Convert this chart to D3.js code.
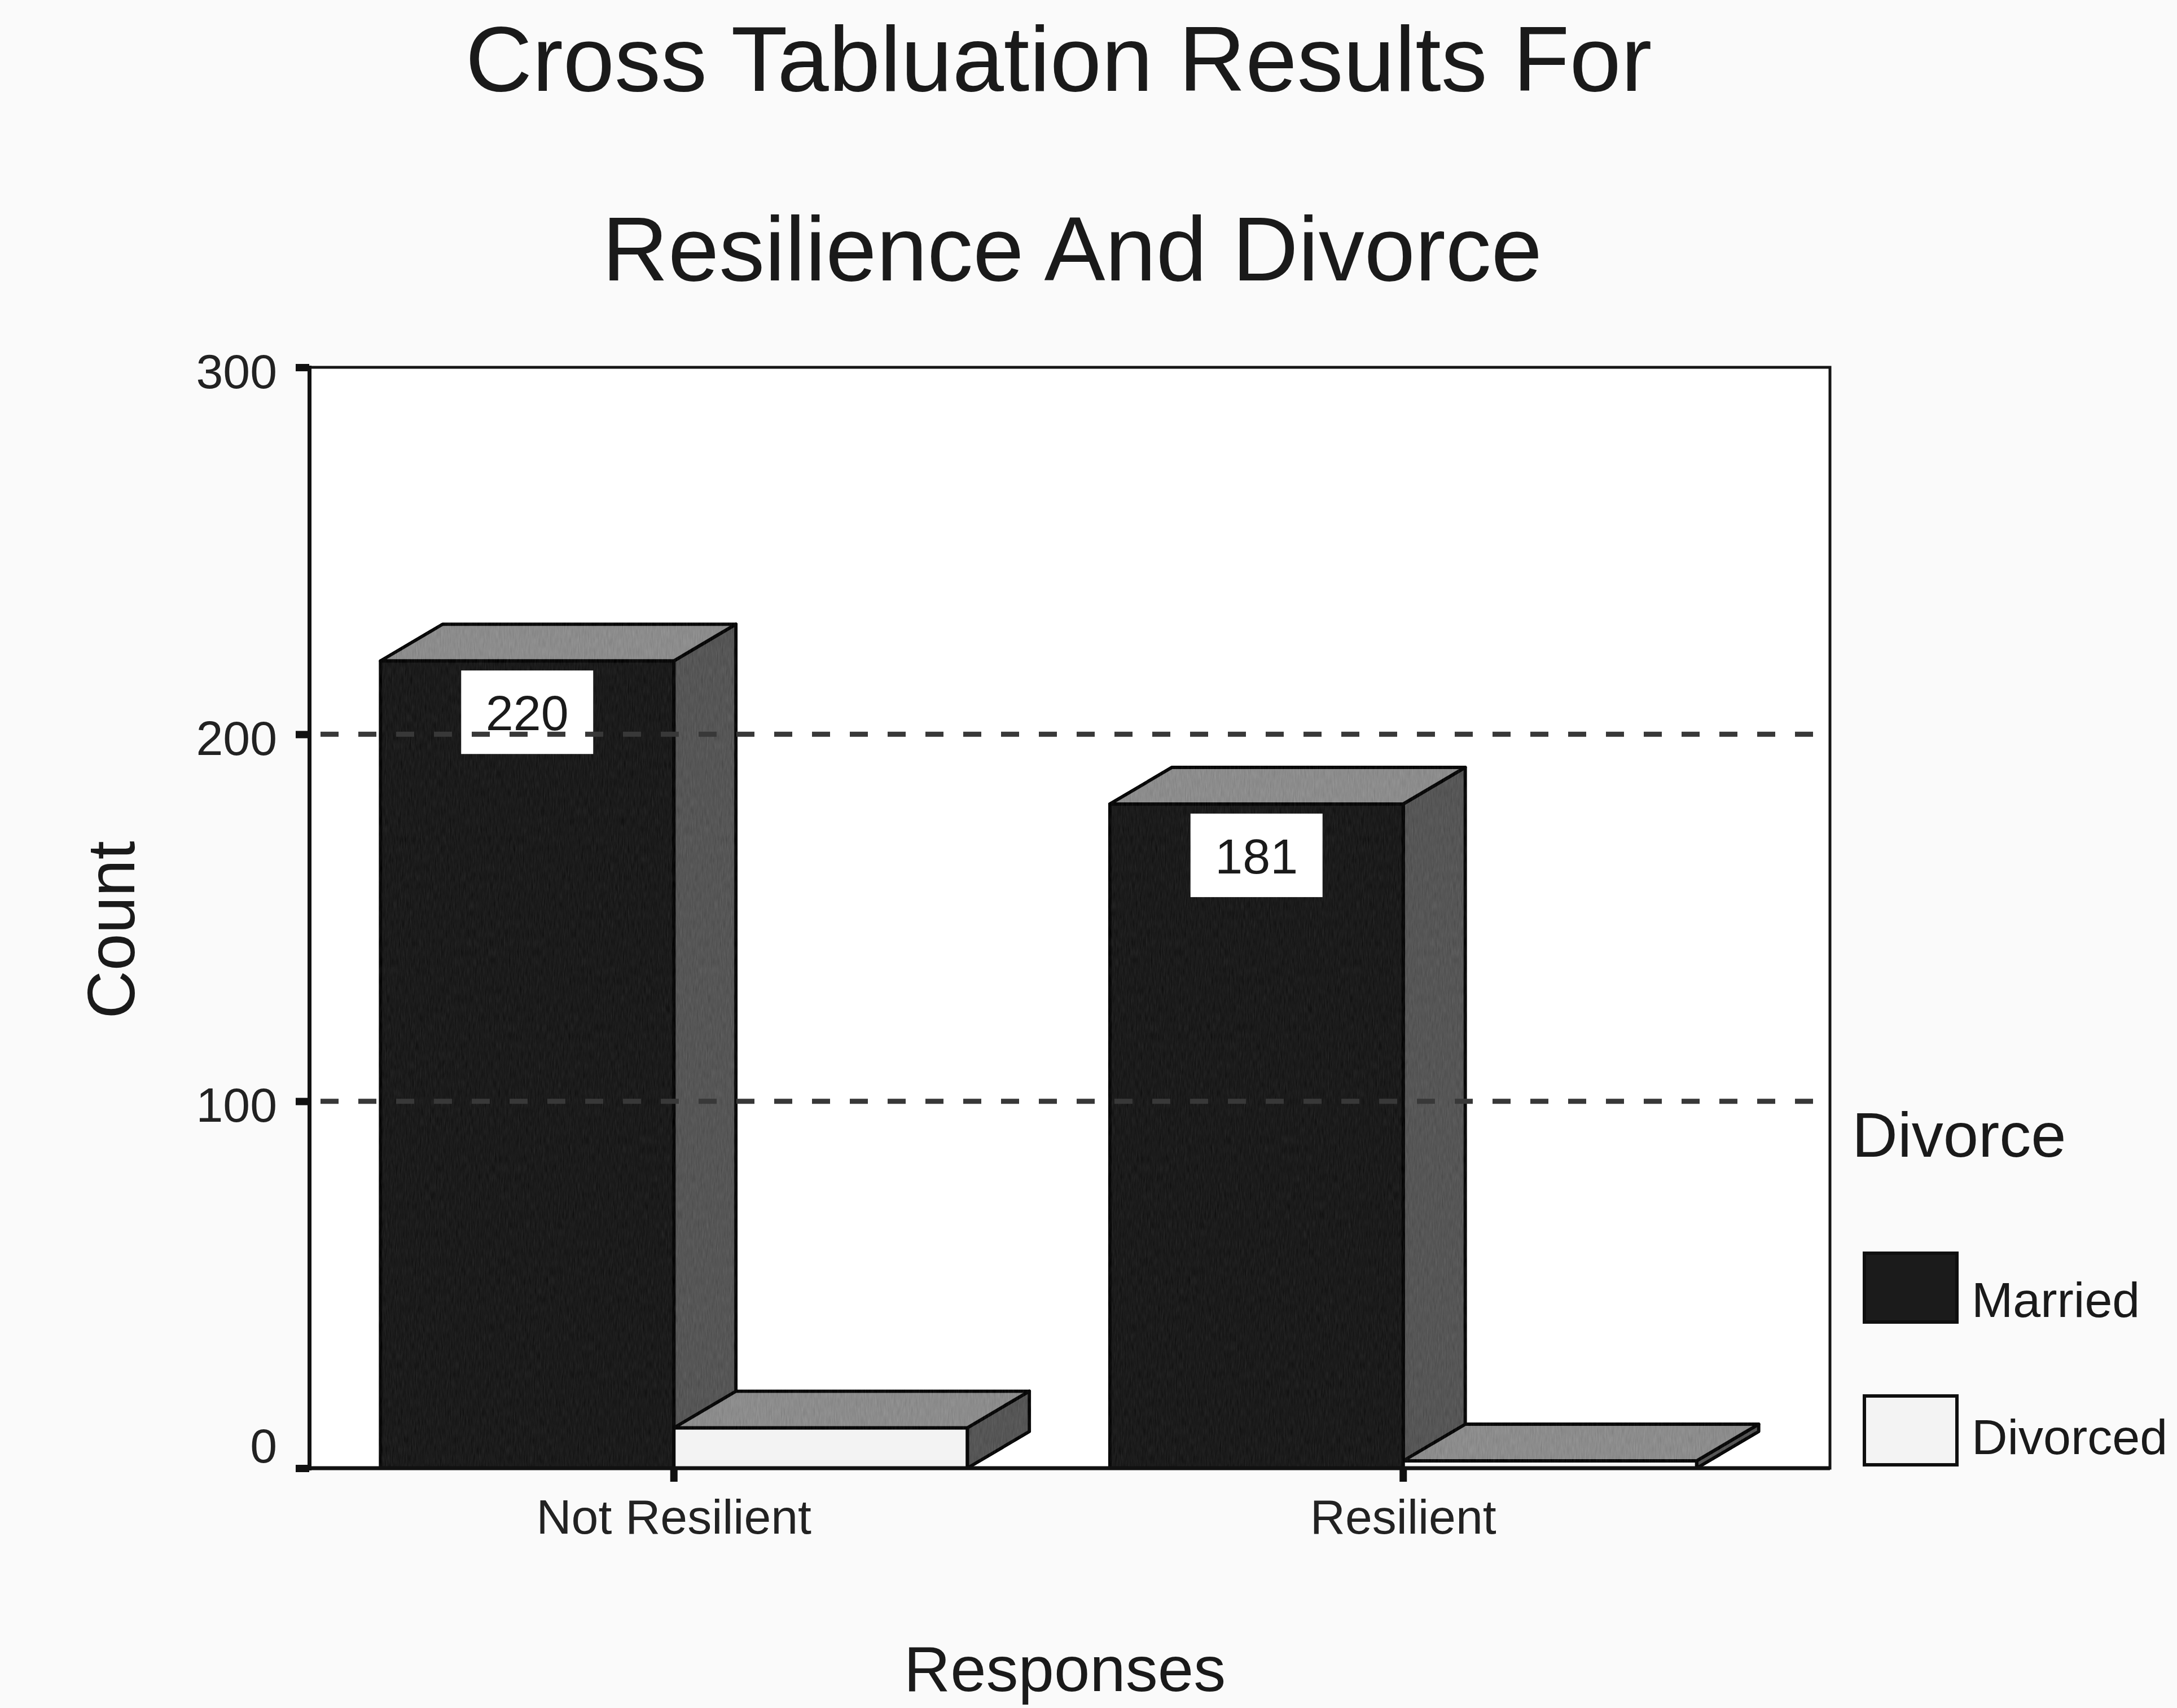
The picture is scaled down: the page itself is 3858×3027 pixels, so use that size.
<!DOCTYPE html>
<html>
<head>
<meta charset="utf-8">
<title>Cross Tabluation Results For Resilience And Divorce</title>
<script src="https://cdn.jsdelivr.net/npm/d3@7"></script>
<style>
  html, body { margin: 0; padding: 0; background: #fafafa; }
  svg { display: block; }
</style>
</head>
<body>
<svg id="chart" width="3858" height="3027"></svg>
<script>
// ---- data ----
const categories = ["Not Resilient", "Resilient"];
const seriesNames = ["Married", "Divorced"];
const marriedCounts = [220, 181];
const divorcedCounts = [11, 2];
const yTickValues = [0, 100, 200, 300];
const gridValues = [100, 200];
const titleLines = ["Cross Tabluation Results For", "Resilience And Divorce"];
const xAxisTitle = "Responses";
const yAxisTitle = "Count";
const legendTitle = "Divorce";

// ---- layout ----
const W = 3858, H = 3027;
const plot = { left: 548, right: 3243, top: 651, bottom: 2602 };
const depth = { dx: 110, dy: -65 };
const barWidth = 520;
const FONT = "'Liberation Sans', Arial, Helvetica, sans-serif";

const faceColors = {
  Married:  { front: "#1b1b1b", top: "#8c8c8c", side: "#565656" },
  Divorced: { front: "#f3f3f3", top: "#8c8c8c", side: "#565656" }
};

const svg = d3.select("#chart");

// grain for the shaded bar faces
const defs = svg.append("defs");
const grain = defs.append("filter").attr("id", "grain")
  .attr("filterUnits", "userSpaceOnUse")
  .attr("x", 0).attr("y", 0).attr("width", W).attr("height", H)
  .attr("color-interpolation-filters", "sRGB");
grain.append("feTurbulence").attr("type", "fractalNoise")
  .attr("baseFrequency", "0.45 0.06").attr("numOctaves", 2).attr("seed", 7)
  .attr("stitchTiles", "stitch")
  .attr("result", "noise");
grain.append("feColorMatrix").attr("in", "noise").attr("type", "matrix")
  .attr("values", "0.33 0.33 0.33 0 0  0.33 0.33 0.33 0 0  0.33 0.33 0.33 0 0  0 0 0 0 1")
  .attr("result", "grey");
grain.append("feComposite").attr("in", "SourceGraphic").attr("in2", "grey")
  .attr("operator", "arithmetic")
  .attr("k1", 0).attr("k2", 1).attr("k3", 0.18).attr("k4", -0.09)
  .attr("result", "mixed");
grain.append("feComposite").attr("in", "mixed").attr("in2", "SourceGraphic")
  .attr("operator", "in");

// page + plot backgrounds
svg.append("rect").attr("width", W).attr("height", H).attr("fill", "#fafafa");
svg.append("rect")
  .attr("x", plot.left).attr("y", plot.top)
  .attr("width", plot.right - plot.left).attr("height", plot.bottom - plot.top)
  .attr("fill", "#ffffff");

// ---- scales ----
const y = d3.scaleLinear().domain([0, 300]).range([plot.bottom, plot.top]);
const x = d3.scaleBand().domain(categories)
  .range([plot.left, plot.right - depth.dx]).padding(0);
const xs = d3.scaleBand().domain(seriesNames)
  .range([-barWidth, barWidth]).padding(0);

const rows = categories.map((c, i) => ({
  category: c,
  bars: [
    { series: "Married", value: marriedCounts[i] },
    { series: "Divorced", value: divorcedCounts[i] }
  ]
}));

// ---- 3D bars ----
const barsG = svg.append("g").attr("class", "bars");
const pt = p => p.map(d => d.join(",")).join(" ");

rows.forEach(row => {
  const cx = x(row.category) + x.bandwidth() / 2;
  row.bars.forEach(b => {
    const x0 = cx + xs(b.series);
    const x1 = x0 + xs.bandwidth();
    const yt = y(b.value);
    const yb = y(0);
    const col = faceColors[b.series];
    const g = barsG.append("g")
      .attr("stroke", "#0a0a0a").attr("stroke-width", 6)
      .attr("stroke-linejoin", "round");
    const tex = b.series === "Married" ? "url(#grain)" : null;
    g.append("polygon")
      .attr("points", pt([[x1, yt], [x1 + depth.dx, yt + depth.dy], [x1 + depth.dx, yb + depth.dy], [x1, yb]]))
      .attr("fill", col.side).attr("filter", "url(#grain)");
    g.append("rect")
      .attr("x", x0).attr("y", yt).attr("width", x1 - x0).attr("height", yb - yt)
      .attr("fill", col.front).attr("filter", tex);
    g.append("polygon")
      .attr("points", pt([[x0, yt], [x0 + depth.dx, yt + depth.dy], [x1 + depth.dx, yt + depth.dy], [x1, yt]]))
      .attr("fill", col.top).attr("filter", "url(#grain)");
  });
});

// ---- value labels on the Married bars ----
const labelG = svg.append("g").attr("class", "value-labels");
rows.forEach(row => {
  const b = row.bars[0];
  const cx = x(row.category) + x.bandwidth() / 2 + xs(b.series) + xs.bandwidth() / 2;
  const top = y(b.value) + 17;
  labelG.append("rect")
    .attr("x", cx - 117).attr("y", top)
    .attr("width", 234).attr("height", 148)
    .attr("fill", "#ffffff");
  labelG.append("text")
    .attr("x", cx).attr("y", top + 74)
    .attr("dy", "0.36em")
    .attr("text-anchor", "middle")
    .attr("font-family", FONT).attr("font-size", 88).attr("fill", "#1a1a1a")
    .text(b.value);
});

// ---- dashed gridlines (drawn over the bars) ----
svg.append("g").attr("class", "grid")
  .selectAll("line").data(gridValues).join("line")
  .attr("x1", plot.left).attr("x2", plot.right)
  .attr("y1", d => y(d)).attr("y2", d => y(d))
  .attr("stroke", "#383838").attr("stroke-width", 9)
  .attr("stroke-dasharray", "32,35").attr("stroke-dashoffset", -20);

// ---- frame ----
svg.append("rect")
  .attr("x", plot.left).attr("y", plot.top)
  .attr("width", plot.right - plot.left).attr("height", plot.bottom - plot.top)
  .attr("fill", "none").attr("stroke", "#151515").attr("stroke-width", 5);

// ---- axes ----
const yAxis = svg.append("g")
  .attr("transform", `translate(${plot.left},0)`)
  .call(d3.axisLeft(y).tickValues(yTickValues).tickSize(24).tickPadding(33));
yAxis.select(".domain").attr("stroke", "#111").attr("stroke-width", 7);
yAxis.selectAll(".tick line").attr("stroke", "#111").attr("stroke-width", 13);
yAxis.selectAll(".tick text")
  .attr("font-family", FONT).attr("font-size", 86).attr("fill", "#222")
  .attr("dy", d => d === 0 ? "-0.12em" : "0.42em");

const xAxis = svg.append("g")
  .attr("transform", `translate(0,${plot.bottom})`)
  .call(d3.axisBottom(x).tickSize(24).tickPadding(0));
xAxis.select(".domain").attr("stroke", "#111").attr("stroke-width", 7)
  .attr("d", `M${plot.left},0H${plot.right}`);
xAxis.selectAll(".tick line").attr("stroke", "#111").attr("stroke-width", 13);
xAxis.selectAll(".tick text")
  .attr("y", 116).attr("dy", 0)
  .attr("font-family", FONT).attr("font-size", 86).attr("fill", "#222");

// ---- titles ----
svg.append("text")
  .attr("x", 1876).attr("y", 161)
  .attr("text-anchor", "middle")
  .attr("font-family", FONT).attr("font-size", 164).attr("fill", "#1a1a1a")
  .text(titleLines[0]);
svg.append("text")
  .attr("x", 1900).attr("y", 497)
  .attr("text-anchor", "middle")
  .attr("font-family", FONT).attr("font-size", 162).attr("fill", "#1a1a1a")
  .text(titleLines[1]);

svg.append("text")
  .attr("x", 1887).attr("y", 2997)
  .attr("text-anchor", "middle")
  .attr("font-family", FONT).attr("font-size", 114).attr("fill", "#1a1a1a")
  .text(xAxisTitle);

svg.append("text")
  .attr("transform", "translate(238,1648) rotate(-90)")
  .attr("text-anchor", "middle")
  .attr("font-family", FONT).attr("font-size", 118).attr("fill", "#1a1a1a")
  .text(yAxisTitle);

// ---- legend ----
const legend = svg.append("g").attr("class", "legend");
legend.append("text")
  .attr("x", 3282).attr("y", 2050)
  .attr("font-family", FONT).attr("font-size", 112).attr("fill", "#1a1a1a")
  .text(legendTitle);
const legendRows = [
  { name: seriesNames[0], top: 2221, base: 2334 },
  { name: seriesNames[1], top: 2474, base: 2577 }
];
legendRows.forEach(r => {
  legend.append("rect")
    .attr("x", 3304).attr("y", r.top).attr("width", 164).attr("height", 122)
    .attr("fill", faceColors[r.name].front)
    .attr("stroke", "#0f0f0f").attr("stroke-width", 6);
  legend.append("text")
    .attr("x", 3494).attr("y", r.base)
    .attr("font-family", FONT).attr("font-size", 88).attr("fill", "#1a1a1a")
    .text(r.name);
});
</script>
</body>
</html>
